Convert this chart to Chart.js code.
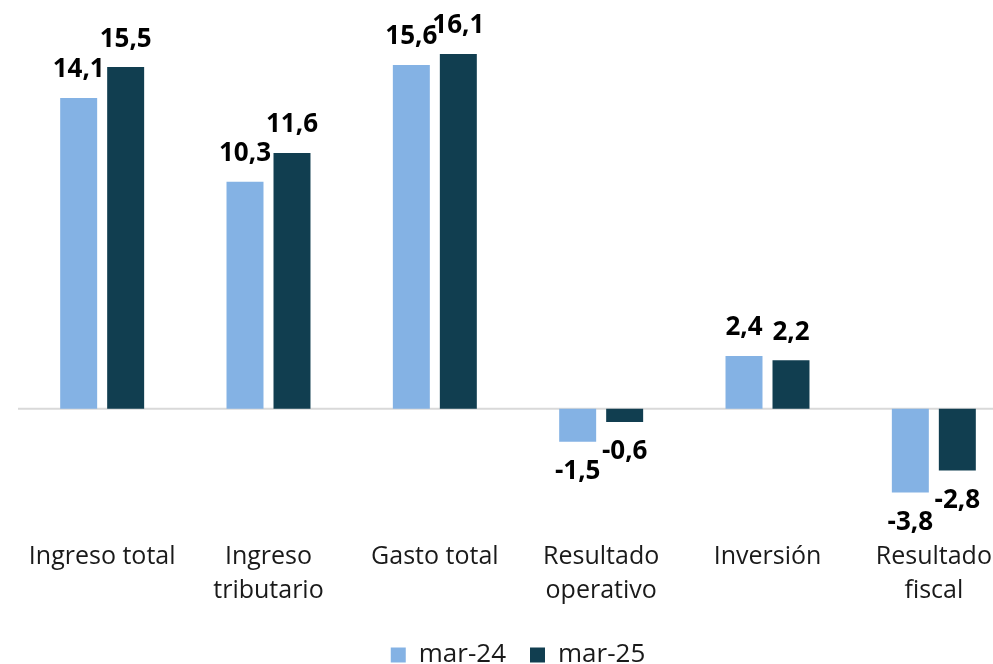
<!DOCTYPE html>
<html>
<head>
<meta charset="utf-8">
<script src="https://cdn.jsdelivr.net/npm/chart.js@4"></script>
<style>
  html, body { margin: 0; padding: 0; background: #fff; overflow: hidden; }
  #wrap { position: absolute; left: 0; top: 0; width: 1030px; height: 678px; }
</style>
</head>
<body>
<div id="wrap"><canvas id="grafico"></canvas></div>
<script>
// Datos del gráfico
const categorias = ['Ingreso total', ['Ingreso', 'tributario'], 'Gasto total', ['Resultado', 'operativo'], 'Inversión', ['Resultado', 'fiscal']];
const mar24 = [14.1, 10.3, 15.6, -1.5, 2.4, -3.8];
const mar25 = [15.5, 11.6, 16.1, -0.6, 2.2, -2.8];
const nombresSeries = ['mar-24', 'mar-25'];

const fuente = "'Open Sans', sans-serif";

// Línea del cero
const lineaCero = {
  id: 'lineaCero',
  beforeDatasetsDraw(chart) {
    const ctx = chart.ctx;
    const y = chart.scales.y.getPixelForValue(0);
    ctx.save();
    ctx.strokeStyle = '#D9D9D9';
    ctx.lineWidth = 2;
    ctx.beginPath();
    ctx.moveTo(18, y);
    ctx.lineTo(chart.width, y);
    ctx.stroke();
    ctx.restore();
  }
};

// Etiquetas de valores
const etiquetas = {
  id: 'etiquetas',
  afterDatasetsDraw(chart) {
    const ctx = chart.ctx;
    ctx.save();
    ctx.font = 'bold 26px ' + fuente;
    ctx.fillStyle = '#000';
    ctx.textAlign = 'center';
    ctx.textBaseline = 'middle';
    chart.data.datasets.forEach((ds, i) => {
      chart.getDatasetMeta(i).data.forEach((bar, j) => {
        const v = ds.data[j];
        const texto = v.toFixed(1).replace('.', ',');
        const y = v >= 0 ? bar.y - 28 : bar.y + 30;
        ctx.fillText(texto, bar.x, y);
      });
    });
    ctx.restore();
  }
};

new Chart(document.getElementById('grafico'), {
  type: 'bar',
  data: {
    labels: categorias,
    datasets: [
      { label: nombresSeries[0], data: mar24, backgroundColor: '#84B2E4' },
      { label: nombresSeries[1], data: mar25, backgroundColor: '#113E50' }
    ]
  },
  options: {
    responsive: true,
    maintainAspectRatio: false,
    animation: false,
    categoryPercentage: 0.565,
    barPercentage: 0.787,
    layout: { padding: { left: 19, right: 13, top: 12, bottom: 0 } },
    scales: {
      x: {
        grid: { display: false, drawTicks: false },
        border: { display: false },
        ticks: {
          color: '#1a1a1a',
          font: { family: fuente, size: 25, lineHeight: 1.36 },
          padding: 21,
          maxRotation: 0,
          autoSkip: false
        },
        afterFit: (scale) => { scale.height = 99; }
      },
      y: {
        display: false,
        min: -5,
        max: 18
      }
    },
    plugins: {
      legend: {
        position: 'bottom',
        labels: {
          boxWidth: 15,
          boxHeight: 15,
          padding: 24,
          color: '#1a1a1a',
          font: { family: fuente, size: 26 }
        }
      },
      tooltip: { enabled: false }
    }
  },
  plugins: [lineaCero, etiquetas]
});
</script>
</body>
</html>
